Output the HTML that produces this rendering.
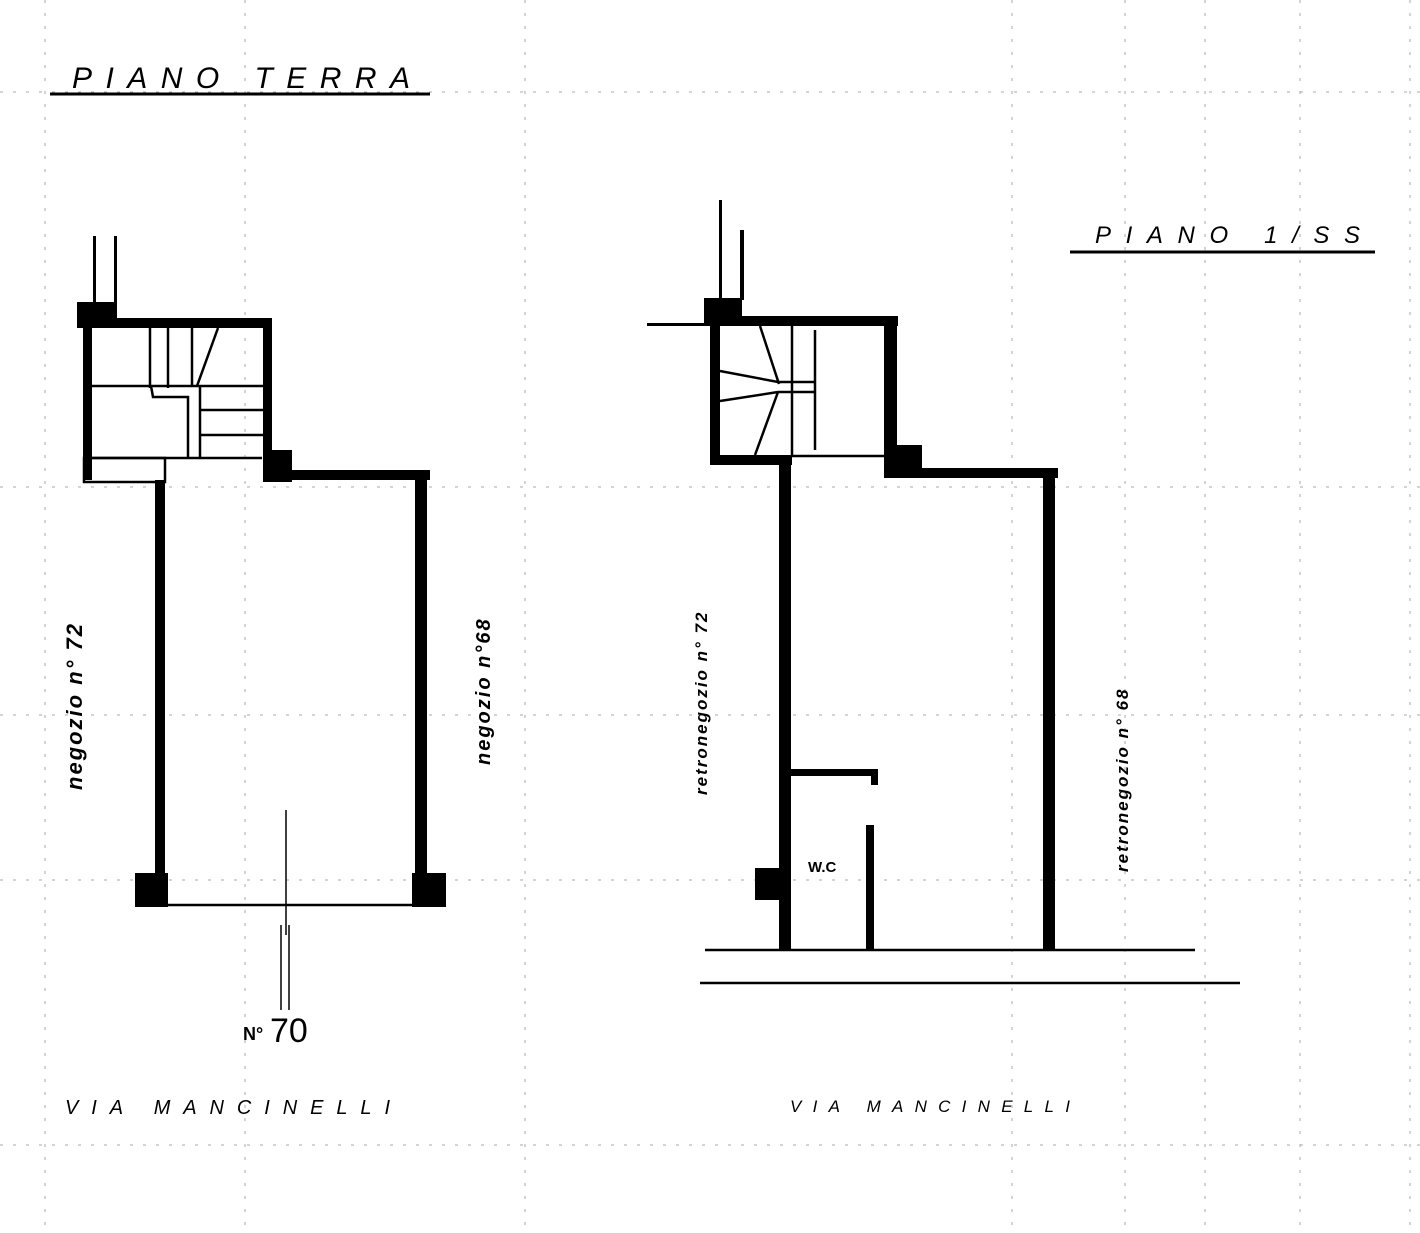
<!DOCTYPE html>
<html><head><meta charset="utf-8"><style>
html,body{margin:0;padding:0;background:#fff;}
svg{display:block;}
text{font-family:"Liberation Sans",sans-serif;fill:#000;}
</style></head><body>
<svg width="1420" height="1233" viewBox="0 0 1420 1233" xmlns="http://www.w3.org/2000/svg">
<g stroke="#aaa" stroke-width="1" stroke-dasharray="3,10" fill="none">
<line x1="0" y1="92" x2="1420" y2="92"/>
<line x1="0" y1="487" x2="1420" y2="487"/>
<line x1="0" y1="880" x2="1420" y2="880"/>
<line x1="0" y1="715" x2="1420" y2="715"/>
<line x1="0" y1="1145" x2="1420" y2="1145"/>
<line x1="45" y1="0" x2="45" y2="1233"/>
<line x1="525" y1="0" x2="525" y2="1233"/>
<line x1="1012" y1="0" x2="1012" y2="1233"/>
<line x1="1125" y1="0" x2="1125" y2="1233"/>
<line x1="1205" y1="0" x2="1205" y2="1233"/>
<line x1="1300" y1="0" x2="1300" y2="1233"/>
<line x1="1410" y1="0" x2="1410" y2="1233"/>
<line x1="245" y1="0" x2="245" y2="1233"/>
</g>

<!-- Titles -->
<text x="72" y="88" font-size="30" font-style="italic" textLength="338" lengthAdjust="spacing">PIANO TERRA</text>
<line x1="50" y1="94" x2="430" y2="94" stroke="#000" stroke-width="3"/>
<text x="1095" y="243" font-size="24" font-style="italic" textLength="265" lengthAdjust="spacing">PIANO  1/SS</text>
<line x1="1070" y1="252" x2="1375" y2="252" stroke="#000" stroke-width="3"/>

<!-- LEFT PLAN -->
<g fill="#000">
<rect x="93" y="236" width="3" height="68"/>
<rect x="114" y="236" width="3" height="68"/>
<rect x="77" y="302" width="40" height="26"/>
<rect x="77" y="318" width="195" height="10"/>
<rect x="83" y="318" width="9" height="162"/>
<rect x="263" y="318" width="9" height="160"/>
<rect x="263" y="450" width="29" height="32"/>
<rect x="263" y="470" width="167" height="10"/>
<rect x="155" y="480" width="10" height="400"/>
<rect x="415" y="473" width="12" height="407"/>
<rect x="135" y="873" width="33" height="34"/>
<rect x="412" y="873" width="34" height="34"/>
</g>
<g stroke="#000" stroke-width="2.5" fill="none">
<line x1="92" y1="458" x2="262" y2="458"/>
<rect x="84" y="458" width="81" height="24"/>
<line x1="150" y1="328" x2="150" y2="388"/>
<line x1="168" y1="328" x2="168" y2="388"/>
<line x1="192" y1="328" x2="192" y2="386"/>
<line x1="218" y1="328" x2="197" y2="386"/>
<line x1="92" y1="386" x2="263" y2="386"/>
<polyline points="151,386 153,397 188,397 188,458"/>
<line x1="200" y1="386" x2="200" y2="458"/>
<line x1="200" y1="410" x2="263" y2="410"/>
<line x1="200" y1="435" x2="263" y2="435"/>
<line x1="165" y1="905" x2="412" y2="905"/>
</g>
<g stroke="#000" stroke-width="1.5">
<line x1="286" y1="810" x2="286" y2="935"/>
<line x1="281" y1="925" x2="281" y2="1010"/>
<line x1="289" y1="925" x2="289" y2="1010"/>
</g>
<text x="243" y="1040" font-size="18" font-weight="bold">N°</text>
<text x="270" y="1042" font-size="34">70</text>
<text x="65" y="1114" font-size="20" font-style="italic" textLength="325" lengthAdjust="spacing">VIA MANCINELLI</text>
<text transform="translate(82,790) rotate(-90)" font-size="22" font-style="italic" font-weight="bold" letter-spacing="2">negozio n° 72</text>
<text transform="translate(490,765) rotate(-90)" font-size="20" font-style="italic" font-weight="bold" letter-spacing="2">negozio n°68</text>

<!-- RIGHT PLAN -->
<g fill="#000">
<rect x="719" y="200" width="3" height="98"/>
<rect x="740" y="230" width="4" height="70"/>
<rect x="647" y="323" width="60" height="3"/>
<rect x="704" y="298" width="38" height="28"/>
<rect x="704" y="316" width="194" height="10"/>
<rect x="710" y="316" width="10" height="149"/>
<rect x="710" y="455" width="82" height="10"/>
<rect x="884" y="316" width="13" height="160"/>
<rect x="884" y="445" width="38" height="33"/>
<rect x="884" y="468" width="174" height="10"/>
<rect x="1043" y="468" width="12" height="482"/>
<rect x="779" y="455" width="12" height="495"/>
<rect x="785" y="769" width="93" height="7"/>
<rect x="871" y="769" width="7" height="16"/>
<rect x="866" y="825" width="8" height="125"/>
<rect x="755" y="868" width="25" height="32"/>
</g>
<g stroke="#000" stroke-width="2.5" fill="none">
<line x1="792" y1="456" x2="884" y2="456"/>
<line x1="792" y1="326" x2="792" y2="455"/>
<line x1="815" y1="330" x2="815" y2="450"/>
<line x1="760" y1="326" x2="779" y2="384"/>
<line x1="755" y1="455" x2="778" y2="392"/>
<line x1="720" y1="371" x2="778" y2="382"/>
<line x1="720" y1="401" x2="778" y2="392"/>
<line x1="778" y1="382" x2="815" y2="382"/>
<line x1="778" y1="392" x2="815" y2="392"/>
<line x1="705" y1="950" x2="1195" y2="950"/>
<line x1="700" y1="983" x2="1240" y2="983"/>
</g>
<text x="808" y="872" font-size="15" font-weight="bold">W.C</text>
<text x="790" y="1112" font-size="17" font-style="italic" textLength="280" lengthAdjust="spacing">VIA MANCINELLI</text>
<text transform="translate(707,795) rotate(-90)" font-size="17" font-style="italic" font-weight="bold" letter-spacing="2">retronegozio n° 72</text>
<text transform="translate(1128,872) rotate(-90)" font-size="17" font-style="italic" font-weight="bold" letter-spacing="2">retronegozio n° 68</text>
</svg>
</body></html>
